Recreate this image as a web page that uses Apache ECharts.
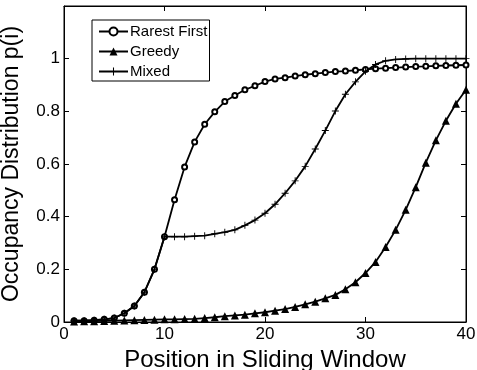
<!DOCTYPE html>
<html><head><meta charset="utf-8">
<script src="https://cdn.jsdelivr.net/npm/echarts@6/dist/echarts.min.js"></script>
<style>html,body{margin:0;padding:0;background:#fff}#c{width:477px;height:370px}</style>
</head><body><div id="c"></div>
<script>
const positions = [1,2,3,4,5,6,7,8,9,10,11,12,13,14,15,16,17,18,19,20,21,22,23,24,25,26,27,28,29,30,31,32,33,34,35,36,37,38,39,40];
const rarestFirst = [0.005,0.005,0.007,0.01,0.015,0.033,0.061,0.113,0.20,0.324,0.464,0.589,0.684,0.751,0.798,0.837,0.86,0.882,0.897,0.913,0.923,0.928,0.934,0.939,0.943,0.947,0.951,0.953,0.956,0.959,0.962,0.964,0.966,0.968,0.970,0.971,0.973,0.974,0.975,0.976];
const greedy = [0.002,0.003,0.003,0.004,0.005,0.006,0.007,0.008,0.009,0.01,0.01,0.011,0.012,0.015,0.018,0.022,0.025,0.028,0.033,0.037,0.043,0.049,0.057,0.067,0.077,0.09,0.103,0.124,0.151,0.186,0.228,0.285,0.35,0.426,0.512,0.605,0.69,0.764,0.829,0.882];
const mixed = [0.005,0.005,0.007,0.01,0.015,0.033,0.061,0.113,0.20,0.324,0.324,0.324,0.326,0.328,0.335,0.341,0.35,0.367,0.387,0.413,0.447,0.489,0.536,0.591,0.657,0.727,0.801,0.865,0.912,0.952,0.978,0.992,0.997,0.999,1,1,1,1,1,1];
const seriesNames = ['Rarest First','Greedy','Mixed'];
const xTicks = [0,10,20,30,40];
const yTicks = [0,0.2,0.4,0.6,0.8,1];

const FONT = 'Liberation Sans, Arial, Helvetica, sans-serif';
const pair = arr => positions.map((x,i)=>[x,arr[i]]);
const plus = 'path://M-1.3,-10L1.3,-10L1.3,-1.3L10,-1.3L10,1.3L1.3,1.3L1.3,10L-1.3,10L-1.3,1.3L-10,1.3L-10,-1.3L-1.3,-1.3Z';
const chart = echarts.init(document.getElementById('c'), null, {renderer:'canvas'});
const mkLine = () => ({show:true, onZero:false, lineStyle:{color:'#000', width:1}});
const mkTick = (cv) => ({show:true, inside:true, length:5, lineStyle:{color:'#000'}, customValues:cv});
chart.setOption({
  animation:false,
  backgroundColor:'#fff',
  grid:{left:64, right:11, top:6, bottom:48, containLabel:false, outerBoundsMode:'none',
        show:true, borderColor:'#000', borderWidth:1, backgroundColor:'transparent'},
  legend:{
    orient:'vertical', left:92, top:20,
    data:seriesNames,
    itemWidth:29, itemHeight:10, itemGap:5,
    backgroundColor:'#fff',
    borderColor:'#000', borderWidth:1, borderRadius:0,
    padding:[4,2,2,6],
    textStyle:{fontFamily:FONT, fontSize:15, lineHeight:15, color:'#000', padding:[0,0,0,-3]}
  },
  xAxis:[{
    type:'value', min:0, max:40, interval:10,
    name:'Position in Sliding Window', nameLocation:'middle', nameGap:16,
    nameTextStyle:{fontFamily:FONT, fontSize:24, color:'#000'},
    axisLine:mkLine(), axisTick:mkTick(xTicks), splitLine:{show:false},
    axisLabel:{fontFamily:FONT, fontSize:17, color:'#000', margin:4, customValues:xTicks}
  },{
    type:'value', min:0, max:40, interval:10, position:'top', show:true,
    axisLine:mkLine(), axisTick:mkTick(xTicks), axisLabel:{show:false}, splitLine:{show:false}
  }],
  yAxis:[{
    type:'value', min:0, max:1.2, interval:0.2,
    name:'Occupancy Distribution p(i)', nameLocation:'middle', nameGap:41,
    nameTextStyle:{fontFamily:FONT, fontSize:23, color:'#000'},
    axisLine:mkLine(), axisTick:mkTick(yTicks), splitLine:{show:false},
    axisLabel:{fontFamily:FONT, fontSize:17, color:'#000', margin:4, customValues:yTicks,
      formatter: v => String(+v.toFixed(1))}
  },{
    type:'value', min:0, max:1.2, interval:0.2, position:'right', show:true,
    axisLine:mkLine(), axisTick:mkTick(yTicks), axisLabel:{show:false}, splitLine:{show:false}
  }],
  series:[
    {name:seriesNames[0], type:'line', data:pair(rarestFirst), symbol:'emptyCircle', symbolSize:5,
     lineStyle:{color:'#000', width:1.8}, itemStyle:{color:'#000', borderWidth:1.5}, z:3},
    {name:seriesNames[1], type:'line', data:pair(greedy), symbol:'triangle', symbolSize:8,
     lineStyle:{color:'#000', width:1.8}, itemStyle:{color:'#000'}, z:4},
    {name:seriesNames[2], type:'line', data:pair(mixed), symbol:plus, symbolSize:7,
     lineStyle:{color:'#000', width:1.8}, itemStyle:{color:'#000'}, z:5},
    {name:'_top', type:'line', xAxisIndex:1, yAxisIndex:1, data:[], silent:true}
  ]
});
</script></body></html>
